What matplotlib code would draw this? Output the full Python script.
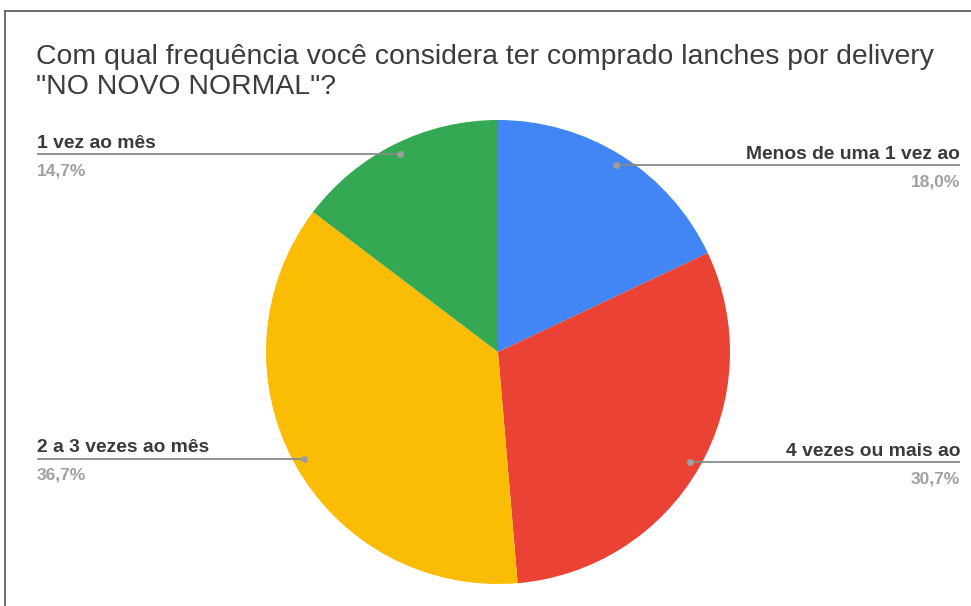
import numpy as np
import matplotlib.pyplot as plt
from matplotlib.lines import Line2D

W, H = 971, 606

# slices, clockwise from 12 o'clock
categories = ["Menos de uma 1 vez ao", "4 vezes ou mais ao", "2 a 3 vezes ao mês", "1 vez ao mês"]
shares = [18.0, 30.7, 36.7, 14.7]
pct_labels = ["18,0%", "30,7%", "36,7%", "14,7%"]
colors = ["#4285F4", "#EA4335", "#FBBC04", "#34A853"]

title = "Com qual frequência você considera ter comprado lanches por delivery\n\"NO NOVO NORMAL\"?"

plt.rcParams['font.family'] = ['Liberation Sans', 'DejaVu Sans']

fig = plt.figure(figsize=(W / 100, H / 100), dpi=100)
ax = fig.add_axes([0, 0, 1, 1])

cx, cy, R = 498, H - 352, 232
ax.pie(shares, colors=colors, startangle=90, counterclock=False,
       center=(cx, cy), radius=R, frame=True, wedgeprops=dict(linewidth=0))
ax.set_xlim(0, W)
ax.set_ylim(0, H)
ax.axis('off')

# leader lines + labels
total = sum(shares)
cum = np.cumsum([0] + shares)
for i, name in enumerate(categories):
    mid = (cum[i] + cum[i + 1]) / 2 / total * 360
    a = np.radians(90 - mid)
    px = cx + 0.953 * R * np.cos(a)
    py = cy + 0.953 * R * np.sin(a)
    if np.cos(a) >= 0:
        xe, ha = 960, 'right'
    else:
        xe, ha = 37, 'left'
    ax.plot([px, xe], [py, py], color='#8a8a8a', lw=1.3, solid_capstyle='butt')
    ax.plot(px, py, 'o', ms=5, color='#9e9e9e', mec='none')
    ax.text(xe, py + 6.5, name, ha=ha, va='baseline', fontsize=13.9,
            fontweight='bold', color='#3a3a3a')
    ax.text(xe, py - 21, pct_labels[i], ha=ha, va='baseline', fontsize=12.5,
            fontweight='bold', color='#a0a0a0')

# title
for k, line in enumerate(title.split('\n')):
    ax.text(36, H - 64 - 30 * k, line, ha='left', va='baseline', fontsize=20.4, color='#3c3c3c')

# frame (left and top only, as in the crop)
fig.add_artist(Line2D([5 / W, 5 / W], [0, (H - 11) / H], transform=fig.transFigure, color='#555555', lw=1.2))
fig.add_artist(Line2D([5 / W, 1], [(H - 11) / H, (H - 11) / H], transform=fig.transFigure, color='#555555', lw=1.2))

fig.savefig("out.png", dpi=100)
